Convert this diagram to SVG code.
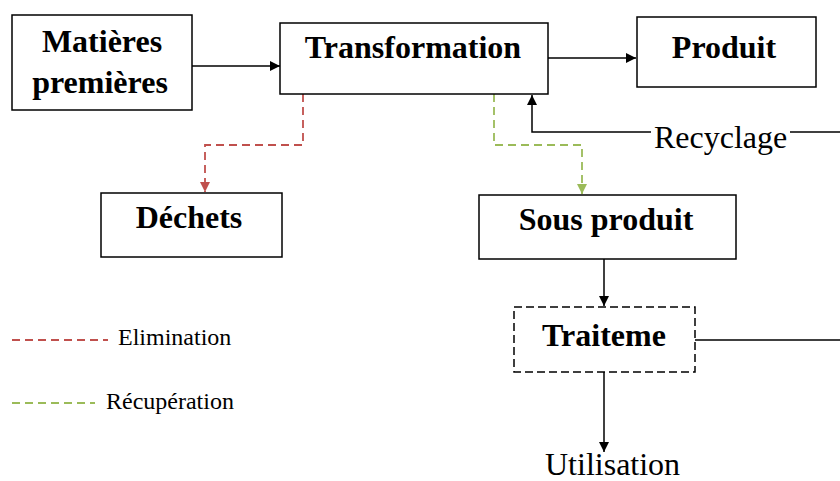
<svg xmlns="http://www.w3.org/2000/svg" width="840" height="481" viewBox="0 0 840 481">
<style>
.box{fill:#fff;stroke:#000;stroke-width:1.5}
.dbox{fill:#fff;stroke:#000;stroke-width:1.5;stroke-dasharray:8 4}
.t{font-family:"Liberation Serif","Times New Roman",serif;font-weight:bold;font-size:32px;fill:#000;text-anchor:middle}
.r{font-family:"Liberation Serif","Times New Roman",serif;font-size:32px;fill:#000}
.lg{font-family:"Liberation Serif","Times New Roman",serif;font-size:24px;fill:#000}
.ln{fill:none;stroke:#000;stroke-width:1.5}
.red{fill:none;stroke:#c0504d;stroke-width:1.8;stroke-dasharray:8 5}
.grn{fill:none;stroke:#9bbb59;stroke-width:1.8;stroke-dasharray:8 5}
</style>
<defs>
<marker id="ab" viewBox="0 0 10 10" refX="10" refY="5" markerWidth="10" markerHeight="10" markerUnits="userSpaceOnUse" orient="auto"><path d="M0,0 L10,5 L0,10 z" fill="#000"/></marker>
<marker id="ar" viewBox="0 0 10 10" refX="10" refY="5" markerWidth="10" markerHeight="10" markerUnits="userSpaceOnUse" orient="auto"><path d="M0,0 L10,5 L0,10 z" fill="#c0504d"/></marker>
<marker id="ag" viewBox="0 0 10 10" refX="10" refY="5" markerWidth="10" markerHeight="10" markerUnits="userSpaceOnUse" orient="auto"><path d="M0,0 L10,5 L0,10 z" fill="#9bbb59"/></marker>
</defs>
<g id="connectors">
<path class="ln" d="M192,66 H280" marker-end="url(#ab)"/>
<path class="ln" d="M548,58 H636" marker-end="url(#ab)"/>
<path class="red" d="M303,94 V145 H205 V192" marker-end="url(#ar)"/>
<path class="grn" d="M494,94 V145 H582 V194" marker-end="url(#ag)"/>
<path class="ln" d="M651,132 H532 V95" marker-end="url(#ab)"/>
<path class="ln" d="M790,132 H840"/>
<path class="ln" d="M604,259 V306" marker-end="url(#ab)"/>
<path class="ln" d="M695,340 H840"/>
<path class="ln" d="M604,372 V452" marker-end="url(#ab)"/>
</g>
<g id="matieres"><rect class="box" x="12" y="15" width="180" height="95"/><text class="t" x="102" y="52">Matières</text><text class="t" x="100" y="93">premières</text></g>
<g id="transformation"><rect class="box" x="280" y="23" width="268" height="71"/><text class="t" x="413" y="58">Transformation</text></g>
<g id="produit"><rect class="box" x="637" y="17" width="179" height="70"/><text class="t" x="724" y="58">Produit</text></g>
<g id="dechets"><rect class="box" x="101" y="193" width="181" height="64"/><text class="t" x="189" y="228">Déchets</text></g>
<g id="sousproduit"><rect class="box" x="479" y="195" width="257" height="64"/><text class="t" x="606" y="230">Sous produit</text></g>
<g id="traiteme"><rect class="dbox" x="514" y="307" width="181" height="65"/><text class="t" x="604" y="346">Traiteme</text></g>
<g id="recyclage"><text class="r" x="654" y="148">Recyclage</text></g>
<g id="utilisation"><text class="r" x="545" y="475">Utilisation</text></g>
<g id="legend">
<path class="red" d="M12,340 H108"/><text class="lg" x="118" y="345">Elimination</text>
<path class="grn" d="M12,403 H95"/><text class="lg" x="106" y="409">Récupération</text>
</g>
</svg>
